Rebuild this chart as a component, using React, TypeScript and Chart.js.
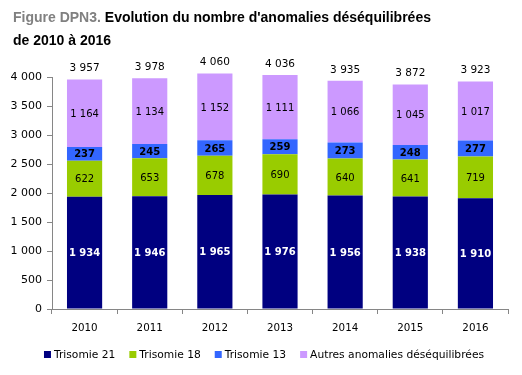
import React, { useEffect, useRef } from "react";
import { Chart, registerables } from "chart.js";

Chart.register(...registerables);

const years = ["2010", "2011", "2012", "2013", "2014", "2015", "2016"];
const trisomie21 = [1934, 1946, 1965, 1976, 1956, 1938, 1910];
const trisomie18 = [622, 653, 678, 690, 640, 641, 719];
const trisomie13 = [237, 245, 265, 259, 273, 248, 277];
const autres = [1164, 1134, 1152, 1111, 1066, 1045, 1017];
const seriesNames = ["Trisomie 21", "Trisomie 18", "Trisomie 13", "Autres anomalies déséquilibrées"];
const seriesColors = ["#000080", "#99CC00", "#3366FF", "#CC99FF"];
const yTicks = [0, 500, 1000, 1500, 2000, 2500, 3000, 3500, 4000];

const FONT = "Verdana, 'DejaVu Sans', sans-serif";

function fmt(v: number): string {
  return String(v).replace(/\B(?=(\d{3})+(?!\d))/g, " ");
}

const labelPlugin = {
  id: "labelPlugin",
  afterDatasetsDraw(chart: any) {
    const ctx = chart.ctx;
    ctx.save();
    ctx.textAlign = "center";
    ctx.textBaseline = "middle";
    const nDs = chart.data.datasets.length;
    for (let d = 0; d < nDs; d++) {
      const meta = chart.getDatasetMeta(d);
      const ds = chart.data.datasets[d];
      meta.data.forEach((el: any, i: number) => {
        const v = ds.data[i];
        const cy = (el.y + el.base) / 2;
        ctx.fillStyle = d === 0 ? "#FFFFFF" : "#000000";
        ctx.font = (d === 0 || d === 2 ? "bold " : "") + "10px " + FONT;
        ctx.fillText(fmt(v), el.x, cy + 1);
      });
    }
    const top = chart.getDatasetMeta(nDs - 1);
    top.data.forEach((el: any, i: number) => {
      let sum = 0;
      for (let d = 0; d < nDs; d++) sum += chart.data.datasets[d].data[i];
      ctx.fillStyle = "#000000";
      ctx.font = "10.5px " + FONT;
      ctx.fillText(fmt(sum), el.x, el.y - 11);
    });
    // legend
    ctx.font = "10.7px " + FONT;
    ctx.textAlign = "left";
    const box = 7, gapBox = 3, gapItem = 14;
    const widths = seriesNames.map((n) => ctx.measureText(n).width);
    const total = widths.reduce((a, w) => a + box + gapBox + w, 0) + gapItem * (seriesNames.length - 1);
    let x = 264 - total / 2;
    const ly = 355;
    seriesNames.forEach((n, i) => {
      ctx.fillStyle = seriesColors[i];
      ctx.fillRect(x, ly - 4, box, box);
      ctx.fillStyle = "#000000";
      ctx.fillText(n, x + box + gapBox, ly);
      x += box + gapBox + widths[i] + gapItem;
    });
    ctx.restore();
  },
};

export default function App() {
  const ref = useRef<HTMLCanvasElement | null>(null);
  useEffect(() => {
    document.body.style.margin = "0";
    if (!ref.current) return;
    const values = [trisomie21, trisomie18, trisomie13, autres];
    const chart = new Chart(ref.current, {
      type: "bar",
      data: {
        labels: years,
        datasets: values.map((data, i) => ({
          label: seriesNames[i],
          data,
          backgroundColor: seriesColors[i],
          borderWidth: 0,
          categoryPercentage: 0.54,
          barPercentage: 1,
          clip: false as any,
        })),
      },
      options: {
        animation: false,
        responsive: false,
        devicePixelRatio: 1,
        layout: { padding: { top: 77, left: 0, right: 14, bottom: 36 } },
        plugins: { legend: { display: false }, tooltip: { enabled: false }, title: { display: false } },
        scales: {
          x: {
            stacked: true,
            grid: { display: true, drawOnChartArea: false, tickLength: 5, color: "#868686", offset: true },
            border: { color: "#868686" },
            ticks: { color: "#000", font: { family: FONT, size: 10.3 }, padding: 8, maxRotation: 0 },
            afterFit: (s: any) => { s.height = 30; },
          },
          y: {
            stacked: true,
            min: 0,
            max: 4000,
            afterBuildTicks: (s: any) => { s.ticks = yTicks.map((v) => ({ value: v })); },
            grid: { display: true, drawOnChartArea: false, tickLength: 5, color: "#868686" },
            border: { color: "#868686" },
            ticks: {
              color: "#000",
              font: { family: FONT, size: 11 },
              padding: 5,
              callback: (v: any) => fmt(Number(v)),
            },
            afterFit: (s: any) => { s.width = 52; },
          },
        },
      },
      plugins: [labelPlugin],
    });
    return () => chart.destroy();
  }, []);
  return (
    <div style={{ position: "relative", width: 522, height: 375, background: "#fff" }}>
      <canvas ref={ref} width={522} height={375} style={{ position: "absolute", left: 0, top: 0 }} />
      <div
        style={{
          position: "absolute",
          left: 13,
          top: 6,
          font: "bold 14px 'Liberation Sans', Arial, sans-serif",
          lineHeight: "23px",
          color: "#000",
          whiteSpace: "nowrap",
        }}
      >
        <span style={{ color: "#808080" }}>Figure DPN3.</span> Evolution du nombre d'anomalies déséquilibrées
        <br />
        de 2010 à 2016
      </div>
    </div>
  );
}
